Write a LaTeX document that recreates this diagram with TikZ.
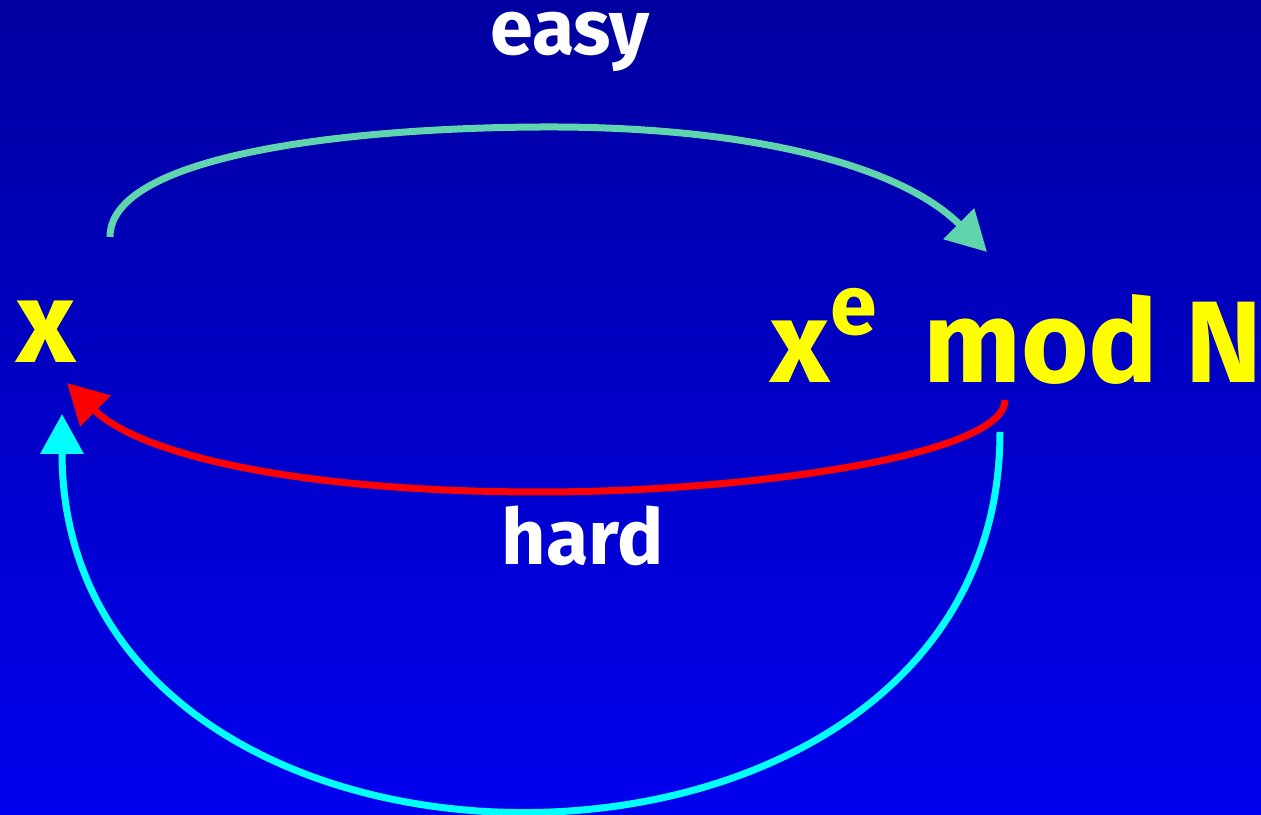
\documentclass[tikz,border=0pt]{standalone}
\usepackage{fontspec}
\setmainfont{Fira Sans}
\usepackage{xcolor}
\usetikzlibrary{arrows.meta}
\definecolor{KYTop}{HTML}{0000A0}
\definecolor{KYBottom}{HTML}{0000EE}
\definecolor{KYEasy}{HTML}{60D4AC}
\definecolor{KYHard}{HTML}{FF0000}
\definecolor{KYBack}{HTML}{00FFFF}
\definecolor{KYText}{HTML}{FFFF00}

\begin{document}
\begin{tikzpicture}[x=1cm,y=1cm,
  curvearrow/.style={line width=0.07cm,-{Triangle[length=0.40cm,width=0.42cm]}},
  bigmath/.style={text=KYText,font=\fontsize{33}{36}\selectfont\bfseries,inner sep=0pt},
  arrowlabel/.style={text=white,font=\fontsize{22}{26}\selectfont\bfseries,inner sep=0pt}]
\path[use as bounding box] (0,0) rectangle (12.61,8.15);
\shade[top color=KYTop,bottom color=KYBottom] (0,0) rectangle (12.61,8.15);
% texts
\node[bigmath,anchor=base] (plain) at (0.46,4.52) {x};
\node[bigmath,anchor=base west] (cipher) at (7.70,4.32) {x\raisebox{0.42em}{\fontsize{24}{26}\selectfont e}\hspace{0.4em}mod N};
\node[arrowlabel,anchor=base] (easy) at (5.70,7.60) {easy};
\node[arrowlabel,anchor=base] (hard) at (5.83,2.50) {hard};
% arrow ends
\coordinate (easy from) at (1.10,5.78);
\coordinate (easy top) at (5.50,6.88);
\coordinate (easy to) at (9.87,5.63);
\coordinate (hard from) at (10.05,4.15);
\coordinate (hard low) at (5.40,3.23);
\coordinate (hard to) at (0.67,4.32);
\coordinate (back from) at (10.00,3.83);
\coordinate (back to) at (0.62,4.01);
% arrows
\draw[curvearrow,KYEasy] (easy from) .. controls (1.10,6.60) and (3.50,6.88) .. (easy top)
  .. controls (7.50,6.88) and (9.00,6.50) .. (easy to);
\draw[curvearrow,KYHard] (hard from) .. controls (10.05,3.60) and (7.50,3.23) .. (hard low)
  .. controls (3.00,3.23) and (1.40,3.60) .. (hard to);
\draw[curvearrow,KYBack] (back from) .. controls (10.00,-1.21) and (0.62,-1.21) .. (back to);
\end{tikzpicture}
\end{document}
